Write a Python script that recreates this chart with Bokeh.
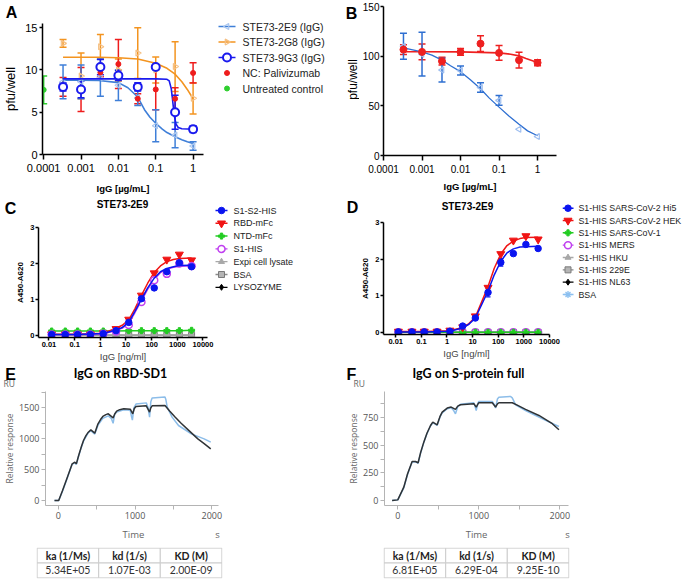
import numpy as np
from bokeh.plotting import figure
from bokeh.models import (Range1d, Whisker, TeeHead, ColumnDataSource, LinearAxis,
                          FixedTicker, PrintfTickFormatter)
from bokeh.layouts import row, column
from bokeh.embed import file_html
from bokeh.resources import INLINE
from bokeh.core.properties import value

# ---------------- Panel A data ----------------
conc_ug = [0.00033, 0.001, 0.0033, 0.01, 0.033, 0.1, 0.33, 1.0]
a_2e9_mean = [8.6, 8.6, 9.1, 8.2, 6.7, 3.4, 2.3, 1.0]
a_2e9_sd = [2.0, 2.0, 2.2, 1.8, 0.9, 1.9, 1.5, 0.5]
a_2g8_mean = [13.15, 9.3, 12.75, 10.0, 12.0, 10.0, 10.4, 6.65]
a_2g8_sd = [0.45, 2.7, 1.45, 1.3, 3.0, 1.55, 2.95, 1.85]
a_9g3_mean = [8.0, 7.7, 10.35, 9.35, 8.0, 10.35, 5.0, 3.0]
a_9g3_sd = [0.5, 1.0, 0.9, 0.6, 0.5, 0.3, 2.0, 0.4]
a_nc_mean = [8.0, 7.7, 9.7, 10.7, 6.6, 7.7, 6.6, 9.65]
a_nc_sd = [1.1, 2.6, 0.5, 2.9, 0.6, 2.4, 1.3, 1.2]
a_ctrl_x = [0.0001]
a_ctrl_mean = [7.65]
a_ctrl_sd = [1.65]
a_2e9_fit_x = [0.00033, 0.001, 0.003, 0.01, 0.018, 0.033, 0.05, 0.07, 0.1, 0.15, 0.2, 0.33, 0.5, 0.7, 1.0]
a_2e9_fit_y = [8.8, 8.8, 8.75, 8.5, 7.9, 6.8, 5.3, 4.4, 3.7, 3.0, 2.6, 2.1, 1.75, 1.5, 1.3]
a_2g8_fit_x = [0.00033, 0.001, 0.003, 0.01, 0.033, 0.1, 0.2, 0.33, 0.5, 0.7, 1.0]
a_2g8_fit_y = [11.5, 11.5, 11.5, 11.45, 11.3, 10.8, 10.2, 9.5, 8.6, 7.7, 6.6]
a_9g3_fit_x = [0.00033, 0.01, 0.1, 0.2, 0.23, 0.26, 0.28, 0.3, 0.32, 0.35, 0.4, 0.5, 1.0]
a_9g3_fit_y = [8.95, 8.95, 8.95, 8.9, 8.7, 7.8, 6.6, 5.4, 4.4, 3.6, 3.2, 3.05, 3.0]
a_series = ["STE73-2E9 (IgG)", "STE73-2G8 (IgG)", "STE73-9G3 (IgG)", "NC: Palivizumab", "Untreated control"]
a_xticks = [0.0001, 0.001, 0.01, 0.1, 1]
a_yticks = [0, 5, 10, 15]

# ---------------- Panel B data ----------------
b_2e9_mean = [110, 102, 86, 85.5, 68.5, 55.5, 26.5, 19.2]
b_2e9_sd = [13, 22, 12, 4.5, 4.8, 5, 0, 0]
b_nc_mean = [106.6, 104.3, 95, 104.3, 112.6, 103.3, 96, 93.4]
b_nc_sd = [5, 8, 4, 3.3, 8, 7.5, 8, 3]
b_2e9_fit_x = [0.00033, 0.001, 0.0018, 0.0033, 0.0055, 0.01, 0.018, 0.033, 0.055, 0.1, 0.18, 0.33, 0.55, 1.0]
b_2e9_fit_y = [108.3, 104.3, 101, 96, 90.4, 84.4, 76.2, 67.2, 58, 48.7, 39.7, 31.5, 24.8, 19.9]
b_nc_fit_x = [0.00033, 0.001, 0.01, 0.1, 0.2, 0.33, 0.5, 1.0]
b_nc_fit_y = [104.5, 104.5, 104.3, 103.3, 102, 100.3, 97.7, 93.7]
b_yticks = [0, 50, 100, 150]

# ---------------- Panel C data ----------------
conc_ng = [0.0127, 0.043, 0.13, 0.41, 1.3, 4.1, 12.8, 40, 126, 390, 1200, 3600]
c_s1s2 = [0.02, 0.02, 0.02, 0.02, 0.045, 0.13, 0.36, 1.02, 1.32, 1.77, 2.02, 1.91]
c_rbd = [0.03, 0.03, 0.03, 0.03, 0.06, 0.18, 0.44, 1.11, 1.73, 2.11, 2.25, 2.09]
c_ntd = [0.12, 0.12, 0.12, 0.12, 0.12, 0.12, 0.13, 0.13, 0.13, 0.13, 0.13, 0.14]
c_s1his = [0.02, 0.02, 0.02, 0.02, 0.045, 0.11, 0.29, 0.93, 1.53, 1.71, 2.0, 1.93]
c_expi = [0.01, 0.01, 0.01, 0.01, 0.01, 0.01, 0.01, 0.01, 0.01, 0.01, 0.01, 0.01]
c_bsa = [0.0, 0.0, 0.0, 0.0, 0.0, 0.0, 0.0, 0.0, 0.0, 0.0, 0.0, 0.0]
c_lys = [0.0, 0.0, 0.0, 0.0, 0.0, 0.0, 0.0, 0.0, 0.0, 0.0, 0.0, 0.0]
fit_ng = [0.0127, 0.13, 1.3, 4.1, 7.2, 12.8, 22, 40, 70, 126, 220, 390, 700, 1200, 3600]
c_rbd_fit = [0.03, 0.03, 0.06, 0.2, 0.28, 0.43, 0.73, 1.11, 1.45, 1.75, 1.93, 2.05, 2.11, 2.14, 2.15]
c_s1s2_fit = [0.02, 0.02, 0.05, 0.15, 0.22, 0.36, 0.66, 1.0, 1.32, 1.59, 1.77, 1.86, 1.91, 1.94, 1.95]
c_s1his_fit = [0.02, 0.02, 0.04, 0.13, 0.2, 0.33, 0.62, 0.96, 1.28, 1.55, 1.74, 1.84, 1.89, 1.92, 1.93]
c_series = ["S1-S2-HIS", "RBD-mFc", "NTD-mFc", "S1-HIS", "Expi cell lysate", "BSA", "LYSOZYME"]
ng_ticks = [0.01, 0.1, 1, 10, 100, 1000, 10000]
abs_ticks = [0, 1, 2, 3]

# ---------------- Panel D data ----------------
d_hi5 = [0.01, 0.01, 0.01, 0.01, 0.03, 0.17, 0.39, 1.09, 1.91, 2.15, 2.40, 2.29]
d_hi5_sd = [0, 0, 0, 0, 0, 0.02, 0.04, 0.12, 0.1, 0.03, 0.03, 0.03]
d_hek = [0.02, 0.02, 0.02, 0.02, 0.05, 0.14, 0.44, 1.22, 2.14, 2.51, 2.63, 2.54]
d_sars1 = [0.0, 0.0, 0.0, 0.0, 0.0, 0.0, 0.0, 0.0, 0.0, 0.0, 0.0, 0.0]
d_mers = [0.0, 0.0, 0.0, 0.0, 0.0, 0.0, 0.0, 0.0, 0.0, 0.0, 0.0, 0.0]
d_hku = [0.0, 0.0, 0.0, 0.0, 0.0, 0.0, 0.0, 0.0, 0.0, 0.0, 0.0, 0.0]
d_229e = [0.0, 0.0, 0.0, 0.0, 0.0, 0.0, 0.0, 0.0, 0.0, 0.0, 0.0, 0.0]
d_nl63 = [0.0, 0.0, 0.0, 0.0, 0.0, 0.0, 0.0, 0.0, 0.0, 0.0, 0.0, 0.0]
d_bsa = [0.0, 0.0, 0.0, 0.0, 0.0, 0.0, 0.0, 0.0, 0.0, 0.0, 0.0, 0.0]
d_hek_fit = [0.02, 0.02, 0.04, 0.13, 0.24, 0.42, 0.81, 1.25, 1.75, 2.14, 2.37, 2.49, 2.56, 2.59, 2.6]
d_hi5_fit = [0.01, 0.01, 0.03, 0.12, 0.22, 0.39, 0.74, 1.13, 1.57, 1.94, 2.17, 2.28, 2.33, 2.34, 2.35]
d_series = ["S1-HIS SARS-CoV-2 Hi5", "S1-HIS SARS-CoV-2 HEK", "S1-HIS SARS-CoV-1", "S1-HIS MERS",
            "S1-HIS HKU", "S1-HIS 229E", "S1-HIS NL63", "BSA"]

# ---------------- Panel E data (SPR) ----------------
e_t_fit = [-50, 5, 55, 118, 181, 215, 235, 265, 300, 328, 360, 391, 424, 475, 500, 517, 550, 580, 620, 651,
           714, 735, 760, 800, 853, 937, 970, 990, 1012, 1146, 1189, 1205, 1222, 1390, 1450, 1524, 1600,
           1692, 1818, 1900, 1986]
e_r_fit = [0, 0, 162, 378, 594, 620, 594, 729, 870, 971, 1050, 1106, 1144, 1090, 1180, 1241, 1310, 1360, 1390, 1403,
           1338, 1400, 1446, 1470, 1484, 1478, 1403, 1490, 1522, 1533, 1430, 1500, 1533, 1538, 1450, 1349, 1250,
           1144, 998, 920, 836]
e_t_raw = [-50, 5, 55, 118, 181, 215, 235, 265, 300, 328, 391, 424, 475, 517, 580, 651, 690, 714, 735, 760, 853,
           937, 955, 965, 985, 1012, 1146, 1170, 1189, 1205, 1222, 1390, 1400, 1419, 1482, 1566, 1733, 1900, 1986]
e_r_raw = [0, 0, 150, 370, 590, 610, 585, 720, 860, 960, 1100, 1130, 1075, 1220, 1330, 1370, 1330, 1250, 1400, 1430,
           1470, 1460, 1350, 1300, 1500, 1560, 1580, 1500, 1350, 1600, 1660, 1675, 1640, 1511, 1349, 1214, 1079, 998, 944]
e_yticks = [0, 500, 1000, 1500]
e_yminor = [250, 750, 1250, 1750]
time_ticks = [0, 1000, 2000]
time_minor = [500, 1500]

# ---------------- Panel F data (SPR) ----------------
f_t_fit = [-70, 0, 74, 120, 177, 218, 251, 280, 321, 360, 404, 432, 486, 520, 548, 610, 659, 712, 740, 774, 939,
           968, 990, 1001, 1166, 1207, 1230, 1248, 1413, 1480, 1577, 1742, 1907, 1989]
f_r_fit = [0, 6, 121, 240, 354, 354, 342, 430, 529, 610, 680, 711, 686, 760, 801, 838, 847, 826, 855, 868, 877,
           847, 876, 886, 886, 847, 876, 886, 886, 862, 826, 771, 696, 641]
f_t_raw = [-70, 0, 74, 120, 177, 218, 251, 280, 321, 360, 404, 432, 486, 520, 548, 610, 659, 690, 712, 740, 774,
           939, 955, 968, 990, 1001, 1166, 1190, 1207, 1230, 1248, 1390, 1413, 1454, 1577, 1824, 1989]
f_r_raw = [0, 6, 115, 235, 350, 352, 338, 425, 525, 605, 675, 705, 680, 755, 795, 832, 840, 815, 786, 850, 872,
           885, 850, 816, 885, 898, 898, 870, 838, 920, 937, 943, 930, 868, 816, 726, 671]
f_yticks = [0, 250, 500, 750]
f_yminor = [125, 375, 625, 875]

# ---------------- Tables ----------------
tbl_headers = ["ka (1/Ms)", "kd (1/s)", "KD (M)"]
e_tbl_values = ["5.34E+05", "1.07E-03", "2.00E-09"]
f_tbl_values = ["6.81E+05", "6.29E-04", "9.25E-10"]

ARIAL = "Liberation Sans"
SPR_FONT = "Open Sans"


# ======================= helpers =======================
def plot_fig(w, h, xr, yr, L, R, T, B, xlog=False):
    p = figure(width=w, height=h, x_range=Range1d(*xr), y_range=Range1d(*yr),
               x_axis_type="log" if xlog else "linear",
               output_backend="svg", toolbar_location=None, frame_align=False,
               min_border_left=L, min_border_right=w - R,
               min_border_top=T, min_border_bottom=h - B)
    p.grid.visible = False
    p.outline_line_color = None
    return p


def blank_fig(w, h):
    f = figure(width=w, height=h, x_range=Range1d(0, w), y_range=Range1d(0, h),
               x_axis_location=None, y_axis_location=None, output_backend="svg",
               toolbar_location=None, frame_align=False, min_border=0,
               min_border_left=0, min_border_right=0, min_border_top=0, min_border_bottom=0)
    f.grid.visible = False
    f.outline_line_color = None
    return f


def text_fig(w, h, items):
    # items: (cx, cy from top, text, size, font, style, color, align, angle)
    f = blank_fig(w, h)
    for cx, cy, txt, size, font, fstyle, color, align, angle in items:
        f.text(x=[cx], y=[h - cy], text=[txt], text_align=align, text_baseline="middle",
               text_font=value(font), text_font_size=size, text_font_style=fstyle,
               text_color=color, angle=angle)
    return f


def style(p, font=ARIAL, size="11px", color="black", lw=1.5, bold=False,
          tick_out=4, standoff=3, label_color=None):
    for ax in p.axis:
        ax.axis_line_color = color
        ax.axis_line_width = lw
        ax.major_tick_line_color = color
        ax.major_tick_line_width = lw
        ax.minor_tick_line_color = None
        ax.major_tick_in = 0
        ax.major_tick_out = tick_out
        ax.major_label_text_font = font
        ax.major_label_text_font_size = size
        ax.major_label_text_font_style = "bold" if bold else "normal"
        ax.major_label_text_color = label_color or color
        ax.major_label_standoff = standoff


def axis_title(ax, text, size, standoff, bold=False, color="black", font=ARIAL):
    ax.axis_label = text
    ax.axis_label_text_font = font
    ax.axis_label_text_font_size = size
    ax.axis_label_text_font_style = "bold" if bold else "normal"
    ax.axis_label_text_color = color
    ax.axis_label_standoff = standoff


def errbars(p, x, m, s, color, width=1.5, head=7):
    keep = [i for i in range(len(x)) if s[i] > 0]
    src = ColumnDataSource(dict(x=[x[i] for i in keep],
                                up=[m[i] + s[i] for i in keep],
                                lo=[m[i] - s[i] for i in keep]))
    p.add_layout(Whisker(source=src, base="x", upper="up", lower="lo",
                         line_color=color, line_width=width,
                         upper_head=TeeHead(size=head, line_color=color, line_width=width),
                         lower_head=TeeHead(size=head, line_color=color, line_width=width)))


def legend_fig(w, h, labels, styles, y0, dy, lx0, lx1, tx, fs):
    f = blank_fig(w, h)
    ys = [h - (y0 + i * dy) for i in range(len(labels))]
    for yc, (ls, ms) in zip(ys, styles):
        if ls is not None:
            f.segment(x0=[lx0], y0=[yc], x1=[lx1], y1=[yc], **ls)
        if ms is not None:
            f.scatter(x=[(lx0 + lx1) / 2], y=[yc], **ms)
    f.text(x=[tx] * len(labels), y=ys, text=labels, text_align="left", text_baseline="middle",
           text_font=value(ARIAL), text_font_size=fs, text_color="#222222")
    return f


# ======================= Panel A =======================
C_E9, C_E9P = "#3f7fd8", "#a9c6ef"
C_G8, C_G8P = "#f39420", "#f5c084"
C_G3 = "#1a1aee"
C_NC = "#ee1c1c"
C_UT = "#2fcf2f"

LS_E9 = dict(line_color=C_E9, line_width=1.6)
LS_G8 = dict(line_color=C_G8, line_width=1.6)
LS_G3 = dict(line_color=C_G3, line_width=1.6)
MS_E9 = dict(marker="triangle", angle=np.pi / 2, size=6, fill_color=None, line_color=C_E9P, line_width=1.2)
MS_G8 = dict(marker="triangle", angle=-np.pi / 2, size=6, fill_color=None, line_color=C_G8P, line_width=1.2)
MS_G3 = dict(marker="circle", size=8, fill_color="white", line_color=C_G3, line_width=2)
MS_NC = dict(marker="circle", size=5, fill_color=C_NC, line_color=C_NC)
MS_UT = dict(marker="circle", size=5, fill_color=C_UT, line_color=C_UT)

hdrA = text_fig(215, 22, [(11, 12, "A", "16px", ARIAL, "bold", "black", "center", 0)])
pA = plot_fig(215, 175, (0.000093, 1.9), (0, 15.5), 38, 203, 1, 132, xlog=True)
style(pA, size="11px")
pA.xaxis.major_tick_out = 5
pA.xaxis.major_label_standoff = 4
pA.yaxis.major_tick_out = 3
pA.yaxis.major_label_standoff = 2
pA.xaxis.ticker = FixedTicker(ticks=a_xticks)
pA.xaxis.formatter = PrintfTickFormatter(format="%g")
pA.yaxis.ticker = FixedTicker(ticks=a_yticks)
axis_title(pA.yaxis[0], "pfu/well", "13px", 4)
axis_title(pA.xaxis[0], "IgG [µg/mL]", "9.5px", 8, bold=True)

errbars(pA, conc_ug, a_2g8_mean, a_2g8_sd, C_G8)
errbars(pA, conc_ug, a_nc_mean, a_nc_sd, C_NC)
errbars(pA, conc_ug, a_2e9_mean, a_2e9_sd, C_E9)
errbars(pA, conc_ug, a_9g3_mean, a_9g3_sd, C_G3)
errbars(pA, a_ctrl_x, a_ctrl_mean, a_ctrl_sd, C_UT)
pA.line(a_2g8_fit_x, a_2g8_fit_y, **LS_G8)
pA.scatter(conc_ug, a_2g8_mean, **MS_G8)
pA.line(a_2e9_fit_x, a_2e9_fit_y, **LS_E9)
pA.scatter(conc_ug, a_2e9_mean, **MS_E9)
pA.line(a_9g3_fit_x, a_9g3_fit_y, **LS_G3)
pA.scatter(conc_ug, a_nc_mean, **MS_NC)
pA.scatter(conc_ug, a_9g3_mean, **MS_G3)
pA.scatter(a_ctrl_x, a_ctrl_mean, **MS_UT)

legA = legend_fig(130, 197, a_series,
                  [(LS_E9, MS_E9), (LS_G8, MS_G8), (LS_G3, MS_G3), (None, MS_NC), (None, MS_UT)],
                  26, 15.5, 3, 20, 27, "10.5px")

# ======================= Panel B =======================
C_BB, C_BBP = "#2e6fd1", "#9fbff0"
C_BR = "#ee2020"
stripB = text_fig(14, 197, [(6, 13, "B", "16px", ARIAL, "bold", "black", "center", 0),
                            (7, 79, "pfu/well", "12px", ARIAL, "normal", "black", "center", np.pi / 2)])
pB = plot_fig(326, 197, (0.0001, 3.1), (0, 150), 21, 197, 6, 155, xlog=True)
style(pB, size="10px")
pB.xaxis.major_tick_out = 5
pB.xaxis.major_label_standoff = 4
pB.yaxis.major_tick_out = 3
pB.yaxis.major_label_standoff = 1
pB.xaxis.ticker = FixedTicker(ticks=a_xticks)
pB.xaxis.formatter = PrintfTickFormatter(format="%g")
pB.yaxis.ticker = FixedTicker(ticks=b_yticks)
axis_title(pB.xaxis[0], "IgG [µg/mL]", "9.5px", 5, bold=True)

errbars(pB, conc_ug, b_nc_mean, b_nc_sd, C_BR)
errbars(pB, conc_ug, b_2e9_mean, b_2e9_sd, C_BB)
pB.line(b_nc_fit_x, b_nc_fit_y, line_color=C_BR, line_width=1.6)
pB.line(b_2e9_fit_x, b_2e9_fit_y, line_color=C_BB, line_width=1.3)
pB.scatter(conc_ug, b_2e9_mean, marker="triangle", angle=np.pi / 2, size=6,
           fill_color=None, line_color=C_BBP, line_width=1.2)
pB.scatter(conc_ug, b_nc_mean, marker="circle", size=7, fill_color=C_BR, line_color=C_BR)

# ======================= Panel C =======================
C_BLUE, C_RED, C_GREEN, C_PURP = "#0a14f0", "#f01414", "#22cc22", "#c040f0"
C_GRAY, C_GRAY2 = "#a8a8a8", "#8a8a8a"

LS_BLUE = dict(line_color=C_BLUE, line_width=1.5)
LS_RED = dict(line_color=C_RED, line_width=1.5)
LS_GREEN = dict(line_color=C_GREEN, line_width=1.5)
LS_PURP = dict(line_color=C_PURP, line_width=1.3)
LS_GRAY = dict(line_color=C_GRAY, line_width=1.3)
LS_GRAY2 = dict(line_color=C_GRAY2, line_width=1.3)
LS_BLACK = dict(line_color="black", line_width=1.3)
LS_LBLUE = dict(line_color="#8cc0f0", line_width=1.3)
MS_BLUE = dict(marker="circle", size=6.5, fill_color=C_BLUE, line_color=C_BLUE)
MS_RED = dict(marker="inverted_triangle", size=8, fill_color=C_RED, line_color=C_RED)
MS_GREEN = dict(marker="plus", size=6, fill_color=C_GREEN, line_color=C_GREEN)
MS_PURP = dict(marker="circle", size=7, fill_color="white", line_color=C_PURP, line_width=1.5)
MS_GRAYT = dict(marker="triangle", size=6, fill_color=C_GRAY, line_color=C_GRAY)
MS_GRAYS = dict(marker="square", size=6, fill_color="#b5b5b5", line_color="#7a7a7a")
MS_BLACK = dict(marker="diamond", size=6, fill_color="black", line_color="black")
MS_LBLUE = dict(marker="asterisk", size=7, line_color="#8cc0f0", line_width=1.3)

hdrC = text_fig(214, 22, [(10, 11, "C", "16px", ARIAL, "bold", "black", "center", 0),
                          (122, 7, "STE73-2E9", "10px", ARIAL, "bold", "black", "center", 0)])
pC = plot_fig(214, 145, (0.0039, 15000), (-0.06, 3), 38, 207, 8, 120, xlog=True)
style(pC, size="7.5px", bold=True, tick_out=3, standoff=1)
pC.xaxis.ticker = FixedTicker(ticks=ng_ticks)
pC.xaxis.formatter = PrintfTickFormatter(format="%g")
pC.yaxis.ticker = FixedTicker(ticks=abs_ticks)
axis_title(pC.yaxis[0], "A450-A620", "8px", 2, bold=True)
axis_title(pC.xaxis[0], "IgG [ng/ml]", "9.5px", 1, color="#444444")

pC.line(conc_ng, c_lys, **LS_BLACK)
pC.scatter(conc_ng, c_lys, **MS_BLACK)
pC.line(conc_ng, c_bsa, **LS_GRAY2)
pC.scatter(conc_ng, c_bsa, **MS_GRAYS)
pC.line(conc_ng, c_expi, **LS_GRAY)
pC.scatter(conc_ng, c_expi, **MS_GRAYT)
pC.line(conc_ng, c_ntd, **LS_GREEN)
pC.scatter(conc_ng, c_ntd, **MS_GREEN)
pC.line(fit_ng, c_rbd_fit, **LS_RED)
pC.scatter(conc_ng, c_rbd, **MS_RED)
pC.line(fit_ng, c_s1his_fit, **LS_PURP)
pC.scatter(conc_ng, c_s1his, **MS_PURP)
pC.line(fit_ng, c_s1s2_fit, **LS_BLUE)
pC.scatter(conc_ng, c_s1s2, **MS_BLUE)

legC = legend_fig(131, 167, c_series,
                  [(LS_BLUE, MS_BLUE), (LS_RED, MS_RED), (LS_GREEN, MS_GREEN), (LS_PURP, MS_PURP),
                   (LS_GRAY, MS_GRAYT), (LS_GRAY2, MS_GRAYS), (LS_BLACK, MS_BLACK)],
                  13, 12.8, 1, 13, 19, "9px")

# ======================= Panel D =======================
hdrD = text_fig(217, 20, [(7, 10, "D", "16px", ARIAL, "bold", "black", "center", 0),
                          (122, 9, "STE73-2E9", "10px", ARIAL, "bold", "black", "center", 0)])
pD = plot_fig(217, 147, (0.00334, 10000), (-0.06, 3), 38, 204, 5, 117, xlog=True)
style(pD, size="7.5px", bold=True, tick_out=3, standoff=1)
pD.xaxis.ticker = FixedTicker(ticks=ng_ticks)
pD.xaxis.formatter = PrintfTickFormatter(format="%g")
pD.yaxis.ticker = FixedTicker(ticks=abs_ticks)
axis_title(pD.yaxis[0], "A450-A620", "8px", 2, bold=True)
axis_title(pD.xaxis[0], "IgG [ng/ml]", "9.5px", 1, color="#444444")

pD.line(conc_ng, d_bsa, **LS_LBLUE)
pD.scatter(conc_ng, d_bsa, **MS_LBLUE)
pD.line(conc_ng, d_nl63, **LS_BLACK)
pD.scatter(conc_ng, d_nl63, **MS_BLACK)
pD.line(conc_ng, d_229e, **LS_GRAY2)
pD.scatter(conc_ng, d_229e, **MS_GRAYS)
pD.line(conc_ng, d_hku, **LS_GRAY)
pD.scatter(conc_ng, d_hku, **MS_GRAYT)
pD.line(conc_ng, d_mers, **LS_PURP)
pD.scatter(conc_ng, d_mers, **MS_PURP)
pD.line(conc_ng, d_sars1, **LS_GREEN)
pD.scatter(conc_ng, d_sars1, **MS_GREEN)
errbars(pD, conc_ng, d_hi5, d_hi5_sd, C_BLUE, width=1.3, head=5)
pD.line(fit_ng, d_hek_fit, **LS_RED)
pD.scatter(conc_ng, d_hek, **MS_RED)
pD.line(fit_ng, d_hi5_fit, **LS_BLUE)
pD.scatter(conc_ng, d_hi5, **MS_BLUE)

legD = legend_fig(123, 167, d_series,
                  [(LS_BLUE, MS_BLUE), (LS_RED, MS_RED), (LS_GREEN, MS_GREEN), (LS_PURP, MS_PURP),
                   (LS_GRAY, MS_GRAYT), (LS_GRAY2, MS_GRAYS), (LS_BLACK, MS_BLACK), (LS_LBLUE, MS_LBLUE)],
                  10.7, 12.33, 0, 11, 16, "8.8px")

# ======================= Panels E / F =======================
C_FIT, C_RAW = "#2f3336", "#8cbde9"
GRAYTXT = "#666666"


def spr_fig(w, xr, yr, L, R, yt, ym, time_px, s_px):
    p = plot_fig(w, 157, xr, yr, L, R, 3, 117)
    style(p, font=SPR_FONT, size="9px", color="#b4b4b4", lw=1, tick_out=4,
          standoff=2, label_color="#555555")
    p.yaxis.ticker = FixedTicker(ticks=yt, minor_ticks=ym)
    p.xaxis.ticker = FixedTicker(ticks=time_ticks, minor_ticks=time_minor)
    for ax in p.axis:
        ax.minor_tick_line_color = "#b4b4b4"
        ax.minor_tick_in = 0
        ax.minor_tick_out = 4
    axis_title(p.yaxis[0], "Relative response", "8.5px", 1, color=GRAYTXT, font=SPR_FONT)
    # second (label-only) time axis carrying "Time" and the unit "s"
    span = xr[1] - xr[0]
    t_time = round(xr[0] + (time_px - L) / (R - L) * span)
    t_s = round(xr[0] + (s_px - L) / (R - L) * span)
    ax2 = LinearAxis(ticker=FixedTicker(ticks=[t_time, t_s]),
                     major_label_overrides={t_time: "Time", t_s: "s"},
                     axis_line_color=None, major_tick_line_color=None,
                     minor_tick_line_color=None, major_label_standoff=0,
                     major_label_text_font=SPR_FONT, major_label_text_font_size="9.5px",
                     major_label_text_color=GRAYTXT)
    p.add_layout(ax2, "below")
    return p


hdrE = text_fig(345, 24, [(10, 10, "E", "16px", ARIAL, "bold", "black", "center", 0),
                          (120, 9, "IgG on RBD-SD1", "12.5px", "Lato", "bold", "black", "center", 0),
                          (3, 19, "RU", "8.5px", SPR_FONT, "normal", GRAYTXT, "left", 0)])
pE = spr_fig(345, (-167, 2087), (-80, 1764), 39, 218, e_yticks, e_yminor, 130, 217)
pE.line(e_t_raw, e_r_raw, line_color=C_RAW, line_width=1.5)
pE.line(e_t_fit, e_r_fit, line_color=C_FIT, line_width=1.5)

hdrF = text_fig(340, 24, [(6, 10, "F", "16px", ARIAL, "bold", "black", "center", 0),
                          (123, 9, "IgG on S-protein full", "12.5px", "Lato", "bold", "black", "center", 0),
                          (8, 19, "RU", "8.5px", SPR_FONT, "normal", GRAYTXT, "left", 0)])
pF = spr_fig(340, (-164, 2107), (-45, 988), 39, 223, f_yticks, f_yminor, 131, 222)
pF.line(f_t_raw, f_r_raw, line_color=C_RAW, line_width=1.5)
pF.line(f_t_fit, f_r_fit, line_color=C_FIT, line_width=1.5)


def table_fig(w, L, R, values):
    t = figure(width=w, height=35, x_range=Range1d(-0.01, 3.01), y_range=Range1d(-0.04, 2.04),
               x_axis_location=None, y_axis_location=None, output_backend="svg",
               toolbar_location=None, frame_align=False, min_border_left=L, min_border_right=w - R,
               min_border_top=2, min_border_bottom=2)
    t.grid.visible = False
    t.outline_line_color = None
    cols = [0, 1, 2, 0, 1, 2]
    rows = [1, 1, 1, 0, 0, 0]
    t.quad(left=cols, right=[c + 1 for c in cols], bottom=rows, top=[r + 1 for r in rows],
           fill_color="white", line_color="#cccccc", line_width=1)
    t.text(x=[c + 0.5 for c in cols[:3]], y=[1.5] * 3, text=tbl_headers,
           text_align="center", text_baseline="middle", text_font=value("Lato"),
           text_font_size="10.5px", text_font_style="bold", text_color="#222222")
    t.text(x=[c + 0.5 for c in cols[3:]], y=[0.5] * 3, text=values,
           text_align="center", text_baseline="middle", text_font=value("Lato"),
           text_font_size="10.5px", text_color="#333333")
    return t


tE = table_fig(345, 36, 222, e_tbl_values)
tF = table_fig(340, 38, 224, f_tbl_values)

layout = column(row(column(hdrA, pA), legA, stripB, pB),
                row(column(hdrC, pC), legC, column(hdrD, pD), legD),
                row(column(hdrE, pE, tE), column(hdrF, pF, tF)))

open("out.html", "w").write(file_html(layout, INLINE))
